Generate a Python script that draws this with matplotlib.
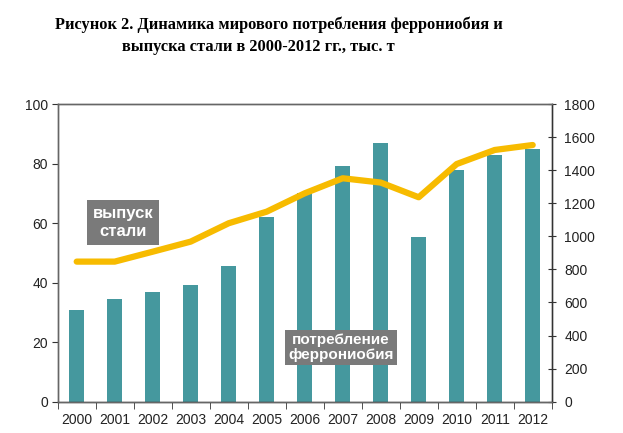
import matplotlib
matplotlib.use("Agg")
import matplotlib.pyplot as plt
import numpy as np

years = ["2000", "2001", "2002", "2003", "2004", "2005", "2006",
         "2007", "2008", "2009", "2010", "2011", "2012"]
ferroniobium = [30.8, 34.4, 36.8, 39.3, 45.6, 62.0, 70.0,
                79.3, 87.0, 55.2, 77.9, 83.0, 84.9]
steel = [847, 847, 907, 968, 1079, 1149, 1260,
         1351, 1325, 1236, 1437, 1522, 1552]
left_ticks = [0, 20, 40, 60, 80, 100]
right_ticks = [0, 200, 400, 600, 800, 1000, 1200, 1400, 1600, 1800]

W, H = 623, 433
fig = plt.figure(figsize=(W / 100, H / 100), dpi=100)
ax = fig.add_axes([57.7 / W, 1 - 401.7 / H, (551.7 - 57.7) / W, (401.7 - 104) / H])
ax2 = ax.twinx()

x = np.arange(len(years))
ax.bar(x, ferroniobium, width=0.4, color="#45989e", zorder=2)
ax.set_xlim(-0.5, len(years) - 0.5)
ax.set_ylim(0, 100)
ax.set_yticks(left_ticks)
ax.set_yticklabels([str(v) for v in left_ticks])
ax.set_xticks(x)
ax.set_xticklabels(years)
ax.set_xticks(np.arange(-0.5, len(years)), minor=True)
ax.tick_params(axis="x", which="major", length=0, pad=8)
ax.tick_params(axis="x", which="minor", length=5, direction="out", color="#333333")
ax.tick_params(axis="y", length=4, direction="out", color="#333333", pad=3)

ax2.plot(x, steel, color="#f7bb00", lw=4.5, solid_capstyle="round",
         solid_joinstyle="round", zorder=3)
ax2.set_ylim(0, 1800)
ax2.set_yticks(right_ticks)
ax2.set_yticklabels([str(v) for v in right_ticks])
ax2.tick_params(axis="y", length=6, direction="inout", color="#333333", pad=6)

for a in (ax, ax2):
    for lab in a.get_xticklabels() + a.get_yticklabels():
        lab.set_fontfamily("Liberation Sans")
        lab.set_fontsize(10)
        lab.set_color("#222222")
    for s in a.spines.values():
        s.set_color("#666666")
        s.set_linewidth(1)
ax2.spines["right"].set_color("#333333")
ax.spines["bottom"].set_color("#333333")

box1 = dict(boxstyle="square,pad=0.35", fc="#7a7a7a", ec="none")
box2 = dict(boxstyle="square,pad=0.2", fc="#7a7a7a", ec="none")
ax.text(1.22, 60.2, "выпуск\nстали", ha="center", va="center", color="white",
        fontsize=12, fontweight="bold", family="Liberation Sans",
        bbox=box1, linespacing=1.3, zorder=5)
ax.text(6.95, 18.3, "потребление\nферрониобия", ha="center", va="center", color="white",
        fontsize=11, fontweight="bold", family="Liberation Sans",
        bbox=box2, linespacing=1.1, zorder=5)

fig.text(55 / W, 1 - 25 / H, "Рисунок 2. Динамика мирового потребления феррониобия и",
         ha="left", va="center", fontsize=11.8, fontweight="bold", family="Liberation Serif")
fig.text(122 / W, 1 - 47 / H, "выпуска стали в 2000-2012 гг., тыс. т",
         ha="left", va="center", fontsize=11.8, fontweight="bold", family="Liberation Serif")

fig.savefig("out.png", dpi=100)
